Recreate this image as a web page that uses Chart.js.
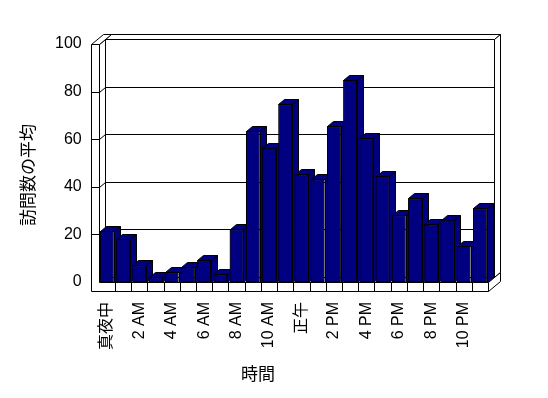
<!DOCTYPE html>
<html>
<head>
<meta charset="utf-8">
<script src="https://cdn.jsdelivr.net/npm/chart.js@4"></script>
<style>
  body { margin: 0; background: #fff; }
  #wrap { width: 548px; height: 398px; }
</style>
</head>
<body>
<div id="wrap"><canvas id="visitsChart"></canvas></div>
<script>
const hours = ['真夜中', '1 AM', '2 AM', '3 AM', '4 AM', '5 AM', '6 AM', '7 AM', '8 AM', '9 AM', '10 AM', '11 AM',
  '正午', '1 PM', '2 PM', '3 PM', '4 PM', '5 PM', '6 PM', '7 PM', '8 PM', '9 PM', '10 PM', '11 PM'];
const avgVisits = [21.4, 18.1, 7.0, 2.0, 4.1, 6.2, 9.2, 3.2, 22.1, 63.3, 56.4, 74.7,
  45.2, 43.1, 65.4, 84.9, 60.4, 44.5, 28.0, 35.2, 24.2, 26.2, 15.1, 31.0];
const yTicks = [0, 20, 40, 60, 80, 100];
const xTitle = '時間';
const yTitle = '訪問数の平均';

const fontFamily = "'Liberation Sans', 'Noto Sans CJK JP', sans-serif";
const navy = '#000080';
const dx = 6, dy = -5;      // depth of the 3D look
const wallW = 8, floorH = 9;

const snap = (v) => Math.round(v) + 0.5;

const poly = (ctx, pts) => {
  ctx.beginPath();
  pts.forEach(([px, py], i) => (i ? ctx.lineTo(snap(px), snap(py)) : ctx.moveTo(snap(px), snap(py))));
  ctx.closePath();
  ctx.fill();
  ctx.stroke();
};

// walls, floor and grid drawn behind the bars, 3D faces on top
const walls = {
  id: 'walls',
  beforeDatasetsDraw(chart) {
    const { ctx, chartArea: a, scales: { x, y } } = chart;
    const L = a.left, R = a.right;
    const T = y.getPixelForValue(yTicks[yTicks.length - 1]);
    const B = y.getPixelForValue(yTicks[0]);
    ctx.save();
    ctx.lineWidth = 1;
    ctx.strokeStyle = '#000';
    ctx.fillStyle = '#fff';

    // back wall
    poly(ctx, [[L + dx, T + dy], [R + dx, T + dy], [R + dx, B + dy], [L + dx, B + dy]]);
    poly(ctx, [[L + dx, T + dy], [R + dx, T + dy], [R + 2 * dx, T + 2 * dy], [L + 2 * dx, T + 2 * dy]]);
    poly(ctx, [[R + dx, T + dy], [R + 2 * dx, T + 2 * dy], [R + 2 * dx, B + 2 * dy], [R + dx, B + dy]]);

    // floor
    poly(ctx, [[L, B], [R, B], [R + dx, B + dy], [L + dx, B + dy]]);
    poly(ctx, [[R, B], [R + 2 * dx, B + 2 * dy], [R + 2 * dx, B + 2 * dy + floorH], [R, B + floorH]]);

    // left wall
    poly(ctx, [[L, T], [L + dx, T + dy], [L + dx, B + dy], [L, B]]);
    poly(ctx, [[L - wallW, T], [L, T], [L + 2 * dx, T + 2 * dy], [L - wallW + 2 * dx, T + 2 * dy]]);
    poly(ctx, [[L - wallW, T], [L, T], [L, B], [R, B], [R, B + floorH], [L - wallW, B + floorH]]);

    // grid lines
    ctx.beginPath();
    yTicks.slice(1, -1).forEach((v) => {
      const py = y.getPixelForValue(v);
      ctx.moveTo(snap(L - wallW), snap(py));
      ctx.lineTo(snap(L), snap(py));
      ctx.lineTo(snap(L + dx), snap(py + dy));
      ctx.lineTo(snap(R + dx), snap(py + dy));
    });
    // category dividers on the floor front
    for (let i = 1; i < hours.length; i++) {
      const px = (x.getPixelForValue(i - 1) + x.getPixelForValue(i)) / 2;
      ctx.moveTo(snap(px), snap(B));
      ctx.lineTo(snap(px), snap(B + floorH));
    }
    ctx.stroke();
    ctx.restore();
  },
  afterDatasetsDraw(chart) {
    const { ctx } = chart;
    const meta = chart.getDatasetMeta(0);
    ctx.save();
    ctx.lineWidth = 1;
    ctx.strokeStyle = '#000';
    meta.data.forEach((bar) => {
      const { x: cx, y: top, base, width } = bar.getProps(['x', 'y', 'base', 'width'], true);
      const x1 = cx - width / 2, x2 = cx + width / 2;
      ctx.fillStyle = navy;
      poly(ctx, [[x2, top], [x2 + dx, top + dy], [x2 + dx, base + dy], [x2, base]]);
      poly(ctx, [[x1, top], [x2, top], [x2 + dx, top + dy], [x1 + dx, top + dy]]);
      bar.draw(ctx);
    });
    ctx.restore();
  },
  afterDraw(chart) {
    const { ctx } = chart;
    ctx.save();
    ctx.fillStyle = '#000';
    ctx.font = `17px ${fontFamily}`;
    ctx.textAlign = 'center';
    ctx.textBaseline = 'middle';
    ctx.fillText(xTitle, 258, 375);
    ctx.translate(29, 175);
    ctx.rotate(-Math.PI / 2);
    ctx.fillText(yTitle, 0, 0);
    ctx.restore();
  },
};

new Chart(document.getElementById('visitsChart'), {
  type: 'bar',
  data: {
    labels: hours,
    datasets: [{
      data: avgVisits,
      backgroundColor: navy,
      borderColor: '#000',
      borderWidth: 1,
      borderSkipped: false,
      barPercentage: 0.85,
      categoryPercentage: 1,
    }],
  },
  options: {
    responsive: true,
    maintainAspectRatio: false,
    animation: false,
    layout: { padding: { left: 38, right: 60, top: 44, bottom: 28 } },
    plugins: { legend: { display: false }, tooltip: { enabled: false } },
    scales: {
      x: {
        grid: { display: false, drawTicks: false },
        border: { display: false },
        ticks: {
          autoSkip: false,
          minRotation: 90,
          maxRotation: 90,
          padding: 20,
          color: '#000',
          font: { size: 16, family: fontFamily },
          callback: (v, i) => (i % 2 ? '' : hours[i]),
        },
      },
      y: {
        min: 0,
        max: 100,
        grid: { display: false, drawTicks: false },
        border: { display: false },
        ticks: {
          stepSize: 20,
          padding: 17,
          color: '#000',
          font: { size: 16, family: fontFamily },
        },
      },
    },
  },
  plugins: [walls],
});
</script>
</body>
</html>
